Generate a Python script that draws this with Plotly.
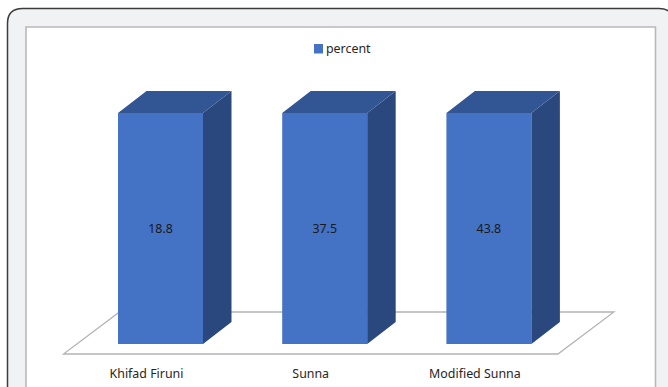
import plotly.graph_objects as go

categories = ["Khifad Firuni", "Sunna", "Modified Sunna"]
percent = [18.8, 37.5, 43.8]
series_name = "percent"

FRONT = "#4472C4"
SIDE = "#2A487E"
TOP = "#325694"
FLOOR_LINE = "#B4B4B4"
TEXT = "#262626"
FONT = "Noto Sans"
FONT_SIZE = 12.4

W, H = 668, 387
BOTTOM_GAP = 25           # strip under the plot area that holds the tick labels
PX_PER_CAT = 164.2        # horizontal pixels between categories
PX_PER_PCT = 2.31         # vertical pixels per percentage point
X0_PX, Y0_PX = 146.5, 344 # pixel position of category 0 and of the 0% level


def fx(p):
    return p / W


def fy(p):
    return 1 - p / H


# Bar geometry in axis units; bars sit to the right of their tick because the
# floor is drawn in oblique projection.
bar_width = 85 / PX_PER_CAT
bar_shift = 14 / PX_PER_CAT
depth_x = 28.5 / PX_PER_CAT
depth_y = 22 / PX_PER_PCT
floor_depth_x = 56 / PX_PER_CAT
floor_depth_y = 42 / PX_PER_PCT

positions = list(range(len(categories)))

# 100% columns: each value is normalised against itself, so all reach the top.
fig = go.Figure()
fig.add_trace(go.Bar(
    x=positions,
    y=percent,
    name=series_name,
    width=bar_width,
    offset=bar_shift - bar_width / 2,
    marker=dict(color=FRONT, line=dict(width=0)),
    text=[f"{v:.1f}" for v in percent],
    textposition="inside",
    insidetextanchor="middle",
    textangle=0,
    textfont=dict(family=FONT, size=FONT_SIZE, color="#1A1A1A"),
    showlegend=False,
))

# Oblique side and top faces of every column, derived from the bar's own extent.
for pos, value in zip(positions, percent):
    left = pos + bar_shift - bar_width / 2
    right = left + bar_width
    height = value / value * 100
    fig.add_trace(go.Scatter(
        x=[right, right + depth_x, right + depth_x, right, right],
        y=[0, depth_y, height + depth_y, height, 0],
        mode="lines", line=dict(width=0), fill="toself", fillcolor=SIDE,
        hoverinfo="skip", showlegend=False,
    ))
    fig.add_trace(go.Scatter(
        x=[left, right, right + depth_x, left + depth_x, left],
        y=[height, height, height + depth_y, height + depth_y, height],
        mode="lines", line=dict(width=0), fill="toself", fillcolor=TOP,
        hoverinfo="skip", showlegend=False,
    ))

# Floor parallelogram, spanning the categories.
floor_left = -83 / PX_PER_CAT
floor_right = positions[-1] + 83 / PX_PER_CAT
floor_front = -10 / PX_PER_PCT
floor_x = [floor_left, floor_right, floor_right + floor_depth_x,
           floor_left + floor_depth_x, floor_left]
floor_y = [floor_front, floor_front, floor_front + floor_depth_y,
           floor_front + floor_depth_y, floor_front]
floor_path = "M " + " L ".join(f"{a},{b}" for a, b in zip(floor_x[:-1], floor_y[:-1])) + " Z"

# Outer card with rounded corners and the white chart panel inside it.
l, t, r, b, rad = 7.5, 8.5, 674, 420, 15
card_path = (
    f"M {fx(l)},{fy(b)} L {fx(l)},{fy(t + rad)} "
    f"Q {fx(l)},{fy(t)} {fx(l + rad)},{fy(t)} "
    f"L {fx(r - rad)},{fy(t)} Q {fx(r)},{fy(t)} {fx(r)},{fy(t + rad)} "
    f"L {fx(r)},{fy(b)} Z"
)

shapes = [
    dict(type="path", xref="paper", yref="paper", path=card_path, layer="below",
         fillcolor="#F1F2F4", line=dict(color="#3C3C3C", width=1.5)),
    dict(type="rect", xref="paper", yref="paper", layer="below",
         x0=fx(26), x1=fx(655.5), y0=fy(420), y1=fy(27),
         fillcolor="#FFFFFF", line=dict(color="#B8B8B8", width=1.6)),
    dict(type="path", xref="x", yref="y", path=floor_path, layer="below",
         fillcolor="#FFFFFF", line=dict(color=FLOOR_LINE, width=1.3)),
    # legend swatch
    dict(type="rect", xref="paper", yref="paper", layer="above",
         x0=fx(314), x1=fx(323), y0=fy(53.5), y1=fy(44),
         fillcolor=FRONT, line=dict(width=0)),
]

fig.update_layout(
    width=W,
    height=H,
    margin=dict(l=0, r=0, t=0, b=0),
    autosize=False,
    paper_bgcolor="#FFFFFF",
    plot_bgcolor="rgba(0,0,0,0)",
    barmode="stack",
    barnorm="percent",
    showlegend=False,
    shapes=shapes,
    font=dict(family=FONT, size=FONT_SIZE, color=TEXT),
    annotations=[dict(
        xref="paper", yref="paper", x=fx(323.5), y=fy(48.5),
        text=series_name, showarrow=False, xanchor="left", yanchor="middle",
        font=dict(family=FONT, size=FONT_SIZE, color=TEXT),
    )],
    xaxis=dict(
        domain=[0, 1],
        range=[(0 - X0_PX) / PX_PER_CAT, (W - X0_PX) / PX_PER_CAT],
        tickmode="array", tickvals=positions, ticktext=categories,
        tickfont=dict(family=FONT, size=FONT_SIZE, color=TEXT),
        ticklabelstandoff=3,
        showgrid=False, zeroline=False, showline=False, ticks="",
        fixedrange=True,
    ),
    yaxis=dict(
        domain=[BOTTOM_GAP / H, 1],
        range=[(Y0_PX - (H - BOTTOM_GAP)) / PX_PER_PCT, Y0_PX / PX_PER_PCT],
        showgrid=False, zeroline=False, showline=False, showticklabels=False,
        ticks="", fixedrange=True,
    ),
)

fig.write_html("out.html", config=dict(displayModeBar=False))
